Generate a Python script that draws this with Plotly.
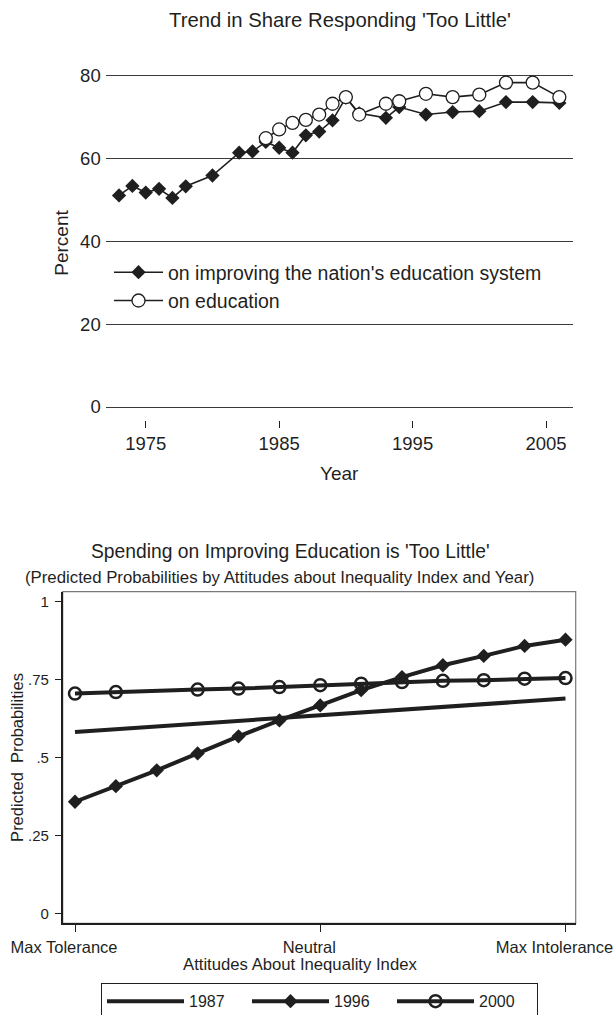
import plotly.graph_objects as go

# ---------------- data: top chart ----------------
years_system = [1973, 1974, 1975, 1976, 1977, 1978, 1980, 1982, 1983, 1984, 1985, 1986, 1987,
                1988, 1989, 1990, 1991, 1993, 1994, 1996, 1998, 2000, 2002, 2004, 2006]
pct_system = [51.0, 53.3, 51.7, 52.6, 50.4, 53.2, 55.8, 61.3, 61.6, 63.9, 62.5, 61.3, 65.5,
              66.4, 69.1, 74.6, 70.8, 69.7, 72.3, 70.5, 71.1, 71.3, 73.5, 73.5, 73.3]
years_edu = [1984, 1985, 1986, 1987, 1988, 1989, 1990, 1991, 1993, 1994, 1996, 1998, 2000,
             2002, 2004, 2006]
pct_edu = [64.8, 66.9, 68.5, 69.2, 70.5, 73.1, 74.7, 70.5, 73.1, 73.7, 75.5, 74.7, 75.3,
           78.2, 78.2, 74.7]
top_yticks = [0, 20, 40, 60, 80]
top_xticks = [1975, 1985, 1995, 2005]

# ---------------- data: bottom chart ----------------
index_pos = list(range(13))
prob_1987_pos = [0, 6, 12]
prob_1987 = [0.582, 0.637, 0.689]
prob_1996 = [0.358, 0.408, 0.459, 0.513, 0.568, 0.619, 0.667, 0.716, 0.758, 0.796, 0.826, 0.858, 0.878]
prob_2000 = [0.705, 0.710, None, 0.718, 0.721, 0.726, 0.732, 0.737, 0.742, 0.746, 0.748, 0.753, 0.755]
bot_yticks = [0, 0.25, 0.5, 0.75, 1]
bot_yticktext = ["0", ".25", ".5", ".75", "1"]
bot_xticks = [0, 6, 12]
bot_xticktext = ["Max Tolerance", "Neutral", "Max Intolerance"]

FONT = "Liberation Sans, Arial, Helvetica, sans-serif"
INK = "#1f1f1f"
W, H = 613, 1015


def px_x(p):
    return p / W


def px_y(p):
    return 1 - p / H


fig = go.Figure()

# top chart traces
fig.add_trace(go.Scatter(
    x=years_system, y=pct_system, mode="lines+markers",
    name="on improving the nation's education system",
    line=dict(color=INK, width=1.6),
    marker=dict(symbol="diamond", size=11, color=INK, line=dict(width=0)),
    xaxis="x", yaxis="y", legend="legend"))
fig.add_trace(go.Scatter(
    x=years_edu, y=pct_edu, mode="lines+markers", name="on education",
    line=dict(color=INK, width=1.6),
    marker=dict(symbol="circle", size=13, color="white", line=dict(width=1.3, color=INK)),
    xaxis="x", yaxis="y", legend="legend"))

# bottom chart traces
fig.add_trace(go.Scatter(
    x=prob_1987_pos, y=prob_1987, mode="lines", name="1987",
    line=dict(color=INK, width=4),
    xaxis="x2", yaxis="y2", legend="legend2"))
fig.add_trace(go.Scatter(
    x=index_pos, y=prob_1996, mode="lines+markers", name="1996",
    line=dict(color=INK, width=4),
    marker=dict(symbol="diamond", size=11, color=INK),
    xaxis="x2", yaxis="y2", legend="legend2"))
fig.add_trace(go.Scatter(
    x=index_pos, y=prob_2000, mode="lines+markers", name="2000", connectgaps=True,
    line=dict(color=INK, width=4),
    marker=dict(symbol="circle-open", size=12, color=INK, line=dict(width=2.5, color=INK)),
    xaxis="x2", yaxis="y2", legend="legend2"))

fig.update_layout(
    width=W, height=H,
    margin=dict(l=0, r=0, t=0, b=0, autoexpand=False),
    paper_bgcolor="white", plot_bgcolor="white",
    font=dict(family=FONT, color=INK),
    showlegend=True,
    xaxis=dict(
        domain=[px_x(105.7), px_x(572.7)], range=[1972, 2007], anchor="y", automargin=False,
        tickvals=top_xticks, ticks="outside", ticklen=7, tickwidth=1.2, tickcolor=INK,
        showline=False, showgrid=False, zeroline=False,
        tickfont=dict(size=18.5, color=INK), ticklabelstandoff=0,
        title=dict(text="Year", font=dict(size=19, color=INK), standoff=13),
    ),
    yaxis=dict(
        domain=[px_y(420), px_y(66)], range=[-3.13, 82.2], anchor="x", automargin=False,
        tickvals=top_yticks, ticks="", showline=False, zeroline=False,
        showgrid=True, gridcolor="#3a3a3a", gridwidth=1.1,
        tickfont=dict(size=18.5, color=INK), ticklabelstandoff=4,
        title=dict(text="Percent", font=dict(size=19, color=INK), standoff=6),
    ),
    xaxis2=dict(
        domain=[px_x(62.7), px_x(575.7)], range=[-0.301, 12.25], anchor="y2", automargin=False,
        tickvals=bot_xticks, ticktext=bot_xticktext, ticks="outside", ticklen=7,
        tickwidth=1.2, tickcolor=INK, showline=True, linecolor=INK, linewidth=1.5,
        mirror=False, showgrid=False, zeroline=False, ticklabeloverflow="allow",
        tickfont=dict(size=16.5, color=INK), ticklabelshift=-11, ticklabelstandoff=1,
    ),
    yaxis2=dict(
        domain=[px_y(923.3), px_y(591.7)], range=[-0.032, 1.032], anchor="x2", automargin=False,
        tickvals=bot_yticks, ticktext=bot_yticktext, ticks="outside", ticklen=6,
        tickwidth=1.2, tickcolor=INK, showline=True, linecolor=INK, linewidth=1.5,
        showgrid=False, zeroline=False,
        tickfont=dict(size=15, color=INK), ticklabelstandoff=3,
        title=dict(text="Predicted\u00a0 Probabilities", font=dict(size=16.5, color=INK), standoff=0),
    ),
    legend=dict(
        x=px_x(109), y=px_y(253), xanchor="left", yanchor="top",
        orientation="v", bgcolor="rgba(0,0,0,0)", borderwidth=0,
        font=dict(size=19.5, color=INK), itemwidth=49,
    ),
    legend2=dict(
        x=px_x(319.5), y=px_y(983.3), xanchor="center", yanchor="top",
        orientation="h", bgcolor="white", bordercolor=INK, borderwidth=1,
        font=dict(size=16, color=INK), itemwidth=77, entrywidth=53,
    ),
    shapes=[
        # gray frame around the bottom plot region
        dict(type="rect", xref="x2 domain", yref="y2 domain", x0=0, x1=1, y0=0, y1=1,
             line=dict(color="#7a7a7a", width=1.2), layer="below"),
    ],
    annotations=[
        dict(text="Trend in Share Responding 'Too Little'", xref="paper", yref="paper",
             x=px_x(340), y=px_y(20), xanchor="center", yanchor="middle", showarrow=False,
             font=dict(size=20.3, color=INK)),
        dict(text="Spending on Improving Education is 'Too Little'", xref="paper", yref="paper",
             x=px_x(290.7), y=px_y(551.5), xanchor="center", yanchor="middle", showarrow=False,
             font=dict(size=19.3, color=INK)),
        dict(text="(Predicted Probabilities by Attitudes about Inequality Index and Year)",
             xref="paper", yref="paper",
             x=px_x(279), y=px_y(577), xanchor="center", yanchor="middle", showarrow=False,
             font=dict(size=16.8, color=INK)),
        dict(text="Attitudes About Inequality Index", xref="paper", yref="paper",
             x=px_x(300.3), y=px_y(964), xanchor="center", yanchor="middle", showarrow=False,
             font=dict(size=16.7, color=INK)),
    ],
)

fig.write_html("out.html", config={"displayModeBar": False},
               post_script="document.body.style.margin='0';")
